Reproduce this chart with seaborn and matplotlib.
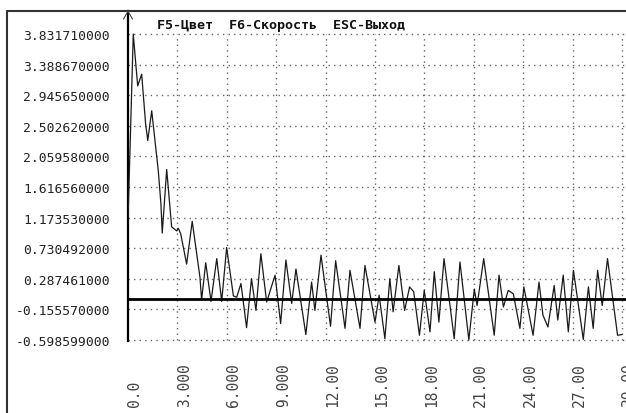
import matplotlib
matplotlib.use("Agg")
import matplotlib.pyplot as plt
import matplotlib.transforms as mtransforms
from matplotlib.lines import Line2D
import seaborn as sns
import pandas as pd

# ---- data ----
t_values = [0.0, 0.32, 0.49, 0.59, 0.83, 1.07, 1.20, 1.44, 1.84, 2.00, 2.08, 2.35,
            2.65, 2.96, 3.05, 3.20, 3.56, 3.90, 4.37, 4.47, 4.72, 5.04, 5.39, 5.69,
            5.99, 6.40, 6.60, 6.86, 7.20, 7.50, 7.77, 8.07, 8.42, 8.93, 9.27, 9.59,
            9.94, 10.20, 10.80, 11.15, 11.35, 11.72, 12.30, 12.61, 13.18, 13.48, 14.09,
            14.39, 15.00, 15.25, 15.60, 15.90, 16.10, 16.45, 16.80, 17.10, 17.35, 17.70,
            17.99, 18.34, 18.60, 18.88, 19.19, 19.81, 20.16, 20.70, 21.03, 21.20, 21.60,
            22.24, 22.53, 22.80, 23.09, 23.40, 23.80, 24.04, 24.60, 24.96, 25.20, 25.50,
            25.88, 26.10, 26.43, 26.74, 27.05, 27.65, 27.96, 28.25, 28.52, 28.80, 29.12,
            29.73, 30.00]
signal_values = [1.13, 3.83171, 3.35, 3.08, 3.25, 2.53, 2.29, 2.72, 1.85, 1.37, 0.95, 1.87,
                 1.04, 0.98, 1.02, 0.94, 0.50, 1.12, 0.31, -0.02, 0.52, -0.04, 0.58, -0.04,
                 0.74, 0.04, 0.02, 0.22, -0.42, 0.29, -0.17, 0.65, -0.05, 0.34, -0.36, 0.56,
                 -0.07, 0.43, -0.52, 0.24, -0.17, 0.63, -0.40, 0.55, -0.43, 0.41, -0.43,
                 0.48, -0.34, 0.05, -0.58, 0.29, -0.19, 0.48, -0.17, 0.17, 0.10, -0.53,
                 0.12, -0.48, 0.39, -0.34, 0.58, -0.58, 0.53, -0.598599, 0.14, -0.10, 0.58,
                 -0.53, 0.34, -0.12, 0.12, 0.07, -0.43, 0.17, -0.53, 0.24, -0.24, -0.41,
                 0.19, -0.31, 0.34, -0.48, 0.41, -0.59, 0.17, -0.43, 0.41, -0.10, 0.58,
                 -0.53, -0.52]

y_ticks = [3.831710, 3.388670, 2.945650, 2.502620, 2.059580, 1.616560,
           1.173530, 0.730492, 0.287461, -0.155570, -0.598599]
y_tick_labels = ["3.831710000", "3.388670000", "2.945650000", "2.502620000",
                 "2.059580000", "1.616560000", "1.173530000", "0.730492000",
                 "0.287461000", "-0.155570000", "-0.598599000"]
x_ticks = [0, 3, 6, 9, 12, 15, 18, 21, 24, 27, 30]
x_tick_labels = ["0.0", "3.000", "6.000", "9.000", "12.00", "15.00",
                 "18.00", "21.00", "24.00", "27.00", "30.00"]
title_text = "F5-Цвет  F6-Скорость  ESC-Выход"

df = pd.DataFrame({"t": t_values, "v": signal_values})

sns.set_style("white")
plt.rcParams["font.family"] = ["DejaVu Sans Mono", "DejaVu Sans"]

W, H = 626, 414
fig = plt.figure(figsize=(W / 100, H / 100), dpi=100)
fig.patch.set_facecolor("white")

ax_left, ax_right, ax_top, ax_bottom = 128, 626, 12, 345
ax = fig.add_axes([ax_left / W, (H - ax_bottom) / H,
                   (ax_right - ax_left) / W, (ax_bottom - ax_top) / H])
ax.set_facecolor("white")

ymax_lbl, ymin_lbl = y_ticks[0], y_ticks[-1]
k = (ymax_lbl - ymin_lbl) / (341 - 35)
ax.set_ylim(ymin_lbl - (ax_bottom - 341) * k, ymax_lbl + (35 - ax_top) * k)
pxu = (622 - 128) / 30.0
ax.set_xlim(0, 30 + (626 - 622) / pxu)

# grid
ax.hlines(y_ticks, 0, 30 + 4 / pxu, colors="#666666", linestyles=(0, (1, 3)),
          linewidth=1.0, zorder=1)
ax.vlines(x_ticks[1:], ymin_lbl, ymax_lbl, colors="#666666",
          linestyles=(0, (1, 3)), linewidth=1.0, zorder=1)

sns.lineplot(data=df, x="t", y="v", ax=ax, color="#1a1a1a", linewidth=0.9,
             estimator=None, sort=False, zorder=3)

ax.axhline(0, color="black", linewidth=2.0, zorder=4)

for s in ["top", "right", "bottom"]:
    ax.spines[s].set_visible(False)
ax.spines["left"].set_color("black")
ax.spines["left"].set_linewidth(1.6)
ax.spines["left"].set_bounds(ymin_lbl - 1 * k, ax.get_ylim()[1])

ax.set_xlabel("")
ax.set_ylabel("")
ax.set_yticks(y_ticks, y_tick_labels)
ax.tick_params(axis="y", length=0, pad=13, labelsize=9.4, labelcolor="#222222")
ax.set_xticks(x_ticks, x_tick_labels)
ax.tick_params(axis="x", length=0, pad=45, labelsize=10.5, labelcolor="#444444")
offset = mtransforms.ScaledTranslation(7 / 100, 0, fig.dpi_scale_trans)
for lbl in ax.get_xticklabels():
    lbl.set_rotation(90)
    lbl.set_va("bottom")
    lbl.set_ha("center")
    lbl.set_transform(lbl.get_transform() + offset)

# title
fig.text(157 / W, 1 - 25.5 / H, title_text, fontsize=9.6, fontweight="bold",
         color="#111111", va="center", ha="left",
         family=["DejaVu Sans Mono", "DejaVu Sans"])

# frame and arrow
def fline(xs, ys, **kw):
    fig.add_artist(Line2D([x / W for x in xs], [1 - y / H for y in ys],
                          transform=fig.transFigure, **kw))

fline([7, 626], [12, 12], color="#333333", linewidth=1.5)
fline([7, 7], [12, 414], color="#333333", linewidth=1.5)
fline([123.5, 128, 132.5], [20, 12.5, 20], color="#444444", linewidth=0.8)

fig.savefig("out.png", dpi=100, facecolor="white")
